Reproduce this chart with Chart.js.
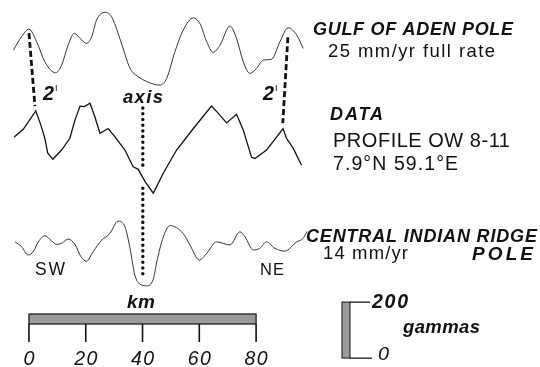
<!DOCTYPE html>
<html>
<head>
<meta charset="utf-8">
<script src="https://cdn.jsdelivr.net/npm/chart.js@4"></script>
<style>
  html, body { margin: 0; padding: 0; background: #fff; }
  #wrap { width: 540px; height: 367px; position: relative; }
</style>
</head>
<body>
<div id="wrap"><canvas id="chart"></canvas></div>
<script>
// distance along the profile (km) and anomaly (gammas) for each curve
const gulfKm = [-5.5, -2.6, 0, 2.7, 5.6, 9.4, 11.5, 13.8, 16.0, 18.0, 20.3, 22.1, 23.8, 26.8, 29.1, 32.0, 35.6, 38.5, 44.4, 46.1,
  48.5, 51.4, 54.3, 57.9, 60.2, 62.6, 64.9, 67.3, 70.8, 73.1, 75.5, 77.8, 80.2, 82.5, 85.5, 88.4, 91.3, 94.3, 96.6];
const gulfGammas = [0, 48, 75, 30, -42, -81, -54, 18, 60, 42, 24, 48, 107, 135, 119, 42, -65, -95, -123, -125,
  -101, -6, 71, 115, 95, 30, -8, 18, 86, 42, -42, -83, -65, -36, -32, 30, 80, 54, 6];

const dataKm = [-5.2, -2.0, 2.4, 4.2, 5.6, 6.6, 8.4, 11.5, 14.4, 16.2, 18.0, 19.5, 21.5, 23.2, 25.0, 27.9, 30.3, 33.8, 36.7, 38.5,
  40.9, 43.8, 47.3, 52.0, 57.9, 64.3, 66.7, 69.6, 73.1, 75.5, 78.4, 79.6, 83.7, 89.5, 90.7, 93.1, 96.0];
const dataGammas = [10, 37, 103, 52, 5, -47, -70, -37, 5, 70, 120, 118, 130, 82, 23, 40, 10, -37, -97, -106,
  -150, -191, -120, -37, 40, 120, 94, 60, 91, 34, -63, -67, -37, 40, 5, -31, -91];

const ridgeKm = [-4.9, -2.6, -0.3, 1.5, 3.3, 5.6, 8.0, 9.8, 11.5, 13.8, 16.2, 18.3, 20.3, 22.6, 25.6, 28.5, 31.4, 33.8, 35.6, 37.3,
  39.7, 41.4, 43.8, 45.0, 47.3, 49.7, 54.3, 56.7, 60.0, 62.6, 66.1, 70.8, 74.3, 76.1, 79.0, 81.3, 83.7, 86.6, 90.1, 94.3, 96.6, 97.9];
const ridgeGammas = [30, 13, -17, -5, 30, 52, 33, 21, 25, 40, 21, -23, -39, -5, 36, 60, 104, 84, 7, -89,
  -124, -127, -103, -42, 47, 88, 60, 19, -35, -11, 30, 19, 66, 48, 1, 7, 30, 7, -3, 30, 43, 67];

// vertical stacking of the three profiles (gammas)
const gulfOffset = 1100;
const dataOffset = 780;
const ridgeOffset = 385;

// anomaly 2' correlation lines and the axis (km, stacked gammas)
const left2Km = [0, 2.1];
const left2Gammas = [1161, 900];
const right2Km = [91.2, 89.4];
const right2Gammas = [1146, 839];
const axisKm = 40.1;
const axisUpper = [893, 689];
const axisLower = [607, 289];

// scale bars
const kmTicks = [0, 20, 40, 60, 80];
const gammaTicks = [0, 200];

const FONT = '"Liberation Sans", Arial, Helvetica, sans-serif';

function pts(xs, ys, off) {
  return xs.map((x, i) => ({ x, y: ys[i] + (off || 0) }));
}

// draw text at a given size, tracked out to span the width seen in the figure
function label(ctx, str, x, y, size, w, style, align) {
  ctx.save();
  ctx.font = style + ' ' + size + 'px ' + FONT;
  ctx.textBaseline = 'alphabetic';
  ctx.textAlign = 'left';
  const natural = ctx.measureText(str).width;
  let left = x;
  if (align === 'center') left = x - w / 2;
  if ('letterSpacing' in ctx && str.length > 1) {
    const extra = (w - natural) / (str.length - 1);
    ctx.letterSpacing = extra.toFixed(2) + 'px';
    ctx.fillText(str, left, y);
  } else {
    ctx.translate(left, y);
    ctx.scale(w / natural, 1);
    ctx.fillText(str, 0, 0);
  }
  ctx.restore();
}

const annotations = {
  id: 'annotations',
  afterDatasetsDraw(chart) {
    const { ctx, scales: { x, y } } = chart;
    ctx.save();
    ctx.fillStyle = '#111';
    ctx.strokeStyle = '#111';

    // km scale bar
    const x0 = x.getPixelForValue(kmTicks[0]);
    const x1 = x.getPixelForValue(kmTicks[kmTicks.length - 1]);
    ctx.fillStyle = '#9b9b9b';
    ctx.fillRect(x0, 314, x1 - x0, 10);
    ctx.lineWidth = 1.2;
    ctx.strokeRect(x0, 314, x1 - x0, 10);
    ctx.fillStyle = '#111';
    ctx.lineWidth = 1.6;
    kmTicks.forEach((t) => {
      const px = x.getPixelForValue(t);
      ctx.beginPath();
      ctx.moveTo(px, 324);
      ctx.lineTo(px, 342);
      ctx.stroke();
      const s = String(t);
      label(ctx, s, px, 365, 19.5, s.length === 1 ? 11 : 23, 'italic', 'center');
    });
    label(ctx, 'km', 141, 308, 19, 28, 'bold italic', 'center');

    // gamma scale bar
    const g0 = y.getPixelForValue(gammaTicks[0]);
    const g1 = y.getPixelForValue(gammaTicks[1]);
    ctx.fillStyle = '#9b9b9b';
    ctx.fillRect(342, g1, 8, g0 - g1);
    ctx.lineWidth = 1;
    ctx.strokeRect(342, g1, 8, g0 - g1);
    ctx.lineWidth = 1.3;
    ctx.beginPath();
    ctx.moveTo(350, g1); ctx.lineTo(370, g1);
    ctx.moveTo(350, g0); ctx.lineTo(372, g0);
    ctx.stroke();
    ctx.fillStyle = '#111';
    label(ctx, '200', 372, g1 + 6, 19.5, 36, 'bold italic');
    label(ctx, '0', 378, g0 + 2, 18, 11, 'italic');
    label(ctx, 'gammas', 403, 333, 18.5, 77, 'bold italic');

    // labels
    label(ctx, 'GULF OF ADEN POLE', 313, 35, 18, 200, 'bold italic');
    label(ctx, '25 mm/yr full rate', 328, 57, 18.5, 167, 'normal');
    label(ctx, 'DATA', 330, 120, 18, 53, 'bold italic');
    label(ctx, 'PROFILE OW 8-11', 333, 147, 20, 177, 'normal');
    label(ctx, '7.9°N 59.1°E', 333, 170, 19.5, 125, 'normal');
    label(ctx, 'CENTRAL INDIAN RIDGE', 306, 242, 18, 231, 'bold italic');
    label(ctx, 'POLE', 472, 260, 19, 61, 'bold italic');
    label(ctx, '14 mm/yr', 323, 259, 18.5, 85, 'normal');
    label(ctx, 'SW', 35, 275, 17.5, 30, 'normal');
    label(ctx, 'NE', 260, 275, 16.5, 24, 'normal');
    label(ctx, 'axis', 143, 103, 18.5, 40, 'bold italic', 'center');
    label(ctx, '2', 43, 100, 20, 11, 'bold italic');
    label(ctx, 'I', 55, 91, 9, 2.5, 'normal');
    label(ctx, '2', 263, 100, 20, 11, 'bold italic');
    label(ctx, 'I', 275, 91, 9, 2.5, 'normal');

    ctx.restore();
  },
};

const dotted = { borderColor: '#111', borderWidth: 3.4, borderDash: [0.1, 5.6], borderCapStyle: 'round', tension: 0 };
const dashed = { borderColor: '#111', borderWidth: 2.8, borderDash: [6, 3], tension: 0 };

new Chart(document.getElementById('chart'), {
  type: 'line',
  data: {
    datasets: [
      { label: 'Gulf of Aden pole', data: pts(gulfKm, gulfGammas, gulfOffset), borderColor: '#333', borderWidth: 1, cubicInterpolationMode: 'monotone' },
      { label: 'Data', data: pts(dataKm, dataGammas, dataOffset), borderColor: '#111', borderWidth: 1.3, tension: 0 },
      { label: 'Central Indian Ridge pole', data: pts(ridgeKm, ridgeGammas, ridgeOffset), borderColor: '#333', borderWidth: 1, cubicInterpolationMode: 'monotone' },
      { label: "2' left", data: pts(left2Km, left2Gammas), ...dashed },
      { label: "2' right", data: pts(right2Km, right2Gammas), ...dashed },
      { label: 'axis upper', data: pts([axisKm, axisKm], axisUpper), ...dotted },
      { label: 'axis lower', data: pts([axisKm, axisKm], axisLower), ...dotted },
    ],
  },
  options: {
    responsive: true,
    maintainAspectRatio: false,
    animation: false,
    layout: { padding: 0 },
    elements: { point: { radius: 0, hoverRadius: 0 } },
    plugins: { legend: { display: false }, tooltip: { enabled: false } },
    scales: {
      x: { type: 'linear', min: -10.2, max: 180, display: false },
      y: { type: 'linear', min: -32, max: 1279, display: false },
    },
  },
  plugins: [annotations],
});
</script>
</body>
</html>
